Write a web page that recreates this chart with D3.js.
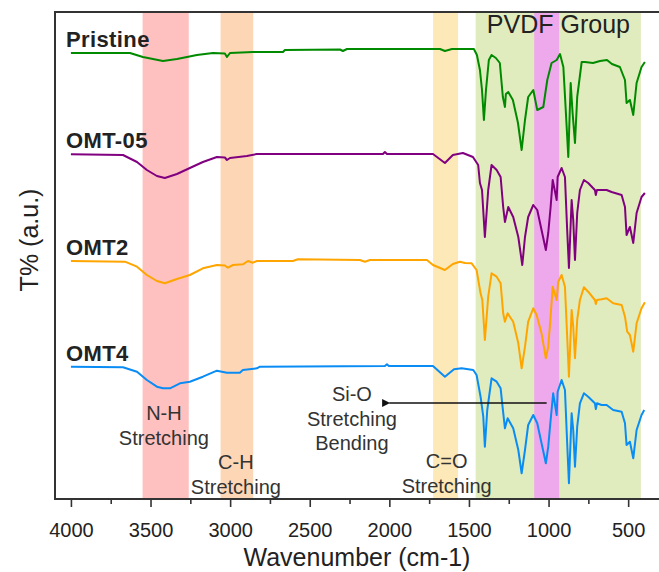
<!DOCTYPE html>
<html>
<head>
<meta charset="utf-8">
<script src="https://cdn.jsdelivr.net/npm/d3@7"></script>
<style>
body { margin: 0; background: #fff; }
svg { font-family: "Liberation Sans", Arial, sans-serif; }
</style>
</head>
<body>
<div id="graphe"></div>
<script>
// spectres FTIR : [nombre d'onde (cm-1), transmittance (u.a., décalée)]
const pristine = [
  [4000,446],[3629,446],[3548,442],[3422,438],[3334,440],[3271,442],[3209,444],[3108,446],
  [3033,445.5],[3020,442],[3001,446],[2857,447],[2668,447],[2656,449],[2310,449.5],[2292,448],
  [2266,450],[1682,450],[1651,448],[1607,450],[1469,450],[1450,444],[1431,429],[1418,409],
  [1406,379],[1393,409],[1375,439],[1358,444],[1331,441],[1306,436],[1287,402],[1274,392],
  [1268,405],[1253,407],[1224,399],[1192,376],[1169,349],[1148,379],[1128,402],[1096,409],
  [1071,389],[1033,392],[1008,419],[981,436],[949,439],[928,445],[907,432],[891,386],
  [876,342],[861,416],[849,386],[834,356],[820,402],[792,437],[772,437],[721,436],
  [677,438],[633,439],[602,435],[552,432],[520,419],[510,396],[489,399],[468,384],
  [447,416],[416,432],[395,437]
];
const omt05 = [
  [4000,344.7],[3673,344],[3585,337],[3523,329],[3460,323],[3410,321],[3334,325],[3253,331],
  [3171,337],[3083,342],[3033,341.5],[3020,339],[3001,341],[2895,343],[2832,345],[2040,345],
  [2028,347],[2015,345],[1726,345],[1651,336],[1601,344],[1538,346],[1475,342],[1442,334],
  [1431,316],[1418,309],[1400,262],[1379,309],[1358,334],[1326,329],[1301,322],[1285,292],
  [1274,277],[1253,292],[1222,282],[1190,262],[1165,234],[1148,262],[1128,282],[1096,294],
  [1071,289],[1044,269],[1017,249],[1002,266],[987,292],[974,319],[949,299],[943,322],
  [918,331],[897,322],[883,269],[872,231],[855,299],[845,279],[834,239],[820,286],
  [803,309],[778,319],[751,316],[709,309],[703,304],[696,309],[635,309],[604,307],
  [541,304],[520,292],[510,264],[489,272],[468,256],[447,286],[416,302],[395,306]
];
const omt2 = [
  [4000,238],[3661,237.3],[3585,232.3],[3523,224],[3460,218],[3410,215.7],[3334,220],[3253,224],
  [3171,230.7],[3083,234],[3033,233.5],[3014,231.3],[2982,234],[2920,234.7],[2888,238],[2857,236.3],
  [2832,238],[2606,238],[2574,239.7],[2185,239],[2153,237.3],[2122,239],[1764,239],[1726,234],
  [1651,229],[1601,235],[1557,237.3],[1525,236],[1483,235.7],[1452,229],[1427,205.7],[1416,199],
  [1400,159],[1379,202.3],[1358,225.7],[1326,222.3],[1301,215.7],[1285,185.7],[1274,177.3],[1257,185.7],
  [1222,177.3],[1190,155.7],[1169,130.7],[1148,152.3],[1128,177.3],[1096,190.7],[1075,184],[1044,165.7],
  [1017,140.7],[1002,152.3],[987,182.3],[974,212.3],[949,199],[939,217.3],[918,224],[897,212.3],
  [883,162.3],[872,122.3],[855,189],[845,172.3],[834,140.7],[820,179],[803,199],[778,211.7],
  [751,207.3],[709,199],[703,195],[696,199],[667,199.7],[635,200.7],[594,195.7],[541,194],
  [520,182.3],[506,167.3],[489,164],[468,147.3],[447,175.7],[416,190.7],[395,196.7]
];
const omt4 = [
  [4000,132.3],[3673,131.7],[3585,127.3],[3523,119],[3460,112.3],[3422,110.7],[3378,110.7],[3315,115.7],
  [3253,117.3],[3171,122.3],[3083,128.3],[3020,126.3],[2939,126.3],[2920,129],[2832,130.7],[2813,132.3],
  [2028,133],[2015,134.7],[2003,133],[1726,133],[1651,122.3],[1594,129.7],[1546,130.7],[1473,129],
  [1452,124],[1427,102.3],[1410,82.3],[1400,52.3],[1385,89],[1358,120.7],[1326,117.3],[1301,110.7],
  [1289,92.3],[1274,70.7],[1257,80.7],[1222,70.7],[1190,49],[1169,25.7],[1148,49],[1128,74],
  [1096,84],[1071,75.7],[1044,55.7],[1017,35.7],[1002,52.3],[987,79],[971,105.7],[949,84],
  [943,107.3],[918,119],[897,109],[883,55.7],[872,15.7],[855,85.7],[845,69],[834,32.3],
  [820,72.3],[803,95.7],[778,105.7],[751,102.3],[709,95.7],[703,90],[696,95.7],[667,94],
  [635,94],[594,89],[541,87.3],[520,75.7],[510,54],[489,57.3],[468,40.7],[447,69],
  [416,84],[399,89]
];

const nomsSeries = ["Pristine", "OMT-05", "OMT2", "OMT4"];
const series = [pristine, omt05, omt2, omt4];

// zones d'absorption (cm-1)
const zones = [[3550, 3260], [3060, 2855], [1725, 1568], [1458, 420], [1090, 933]];

const ticksMajeurs = [4000, 3500, 3000, 2500, 2000, 1500, 1000, 500];
const ticksMineurs = [3750, 3250, 2750, 2250, 1750, 1250, 750];

const couleurs = ["#008a00", "#800080", "#ffa500", "#0a8cf5"];
const couleursZones = ["#ffc0c0", "#fdd6b6", "#fde8b8", "#e1ecbe", "#eea8ec"];

const svg = d3.select("#graphe").append("svg").attr("width", 659).attr("height", 572);

const x = d3.scaleLinear().domain([4100, 300]).range([55, 660]);
const y = d3.scaleLinear().domain([0, 487]).range([499, 12]);

// bandes colorées
svg.selectAll("rect.zone").data(zones).enter().append("rect")
    .attr("class", "zone")
    .attr("x", d => x(d[0]))
    .attr("width", d => x(d[1]) - x(d[0]))
    .attr("y", y(487))
    .attr("height", y(0) - y(487))
    .attr("fill", (d, i) => couleursZones[i]);

// courbes
const ligne = d3.line().x(d => x(d[0])).y(d => y(d[1]));
svg.selectAll("path.spectre").data(series).enter().append("path")
    .attr("class", "spectre")
    .attr("d", ligne)
    .attr("fill", "none")
    .attr("stroke", (d, i) => couleurs[i])
    .attr("stroke-width", 2)
    .attr("stroke-linejoin", "round");

// noms des échantillons
svg.selectAll("text.nom").data(series).enter().append("text")
    .attr("class", "nom")
    .attr("x", x(4000) - 5)
    .attr("y", d => y(d[0][1]) - 6)
    .attr("font-size", 22)
    .attr("font-weight", "bold")
    .attr("letter-spacing", 0.4)
    .attr("fill", "#222")
    .text((d, i) => nomsSeries[i]);

svg.append("text")
    .attr("x", x(1400) + 2).attr("y", 33)
    .attr("font-size", 25).attr("fill", "#222")
    .text("PVDF Group");

// axe x
const axeX = svg.append("g").attr("transform", "translate(0,499)")
    .call(d3.axisBottom(x).tickValues(ticksMajeurs).tickSize(8).tickSizeOuter(0).tickPadding(16).tickFormat(d3.format("d")));
axeX.select(".domain").remove();
axeX.selectAll("text").attr("font-size", 20).attr("fill", "#222").attr("font-family", "Liberation Sans, Arial, sans-serif");
axeX.selectAll("line").attr("stroke", "#333").attr("stroke-width", 1.6);

const axeMin = svg.append("g").attr("transform", "translate(0,499)")
    .call(d3.axisBottom(x).tickValues(ticksMineurs).tickSize(5).tickSizeOuter(0).tickFormat(""));
axeMin.select(".domain").remove();
axeMin.selectAll("line").attr("stroke", "#333").attr("stroke-width", 1.6);

// cadre
svg.append("path")
    .attr("d", "M660,12 H55 V499 H660")
    .attr("fill", "none").attr("stroke", "#333").attr("stroke-width", 2);

svg.append("text")
    .attr("x", 357).attr("y", 566)
    .attr("text-anchor", "middle")
    .attr("font-size", 25).attr("fill", "#222")
    .text("Wavenumber (cm-1)");

svg.append("text")
    .attr("transform", "translate(38,240) rotate(-90)")
    .attr("text-anchor", "middle")
    .attr("font-size", 25).attr("fill", "#222")
    .text("T% (a.u.)");

// annotations
const annotations = [
  {w: 3416, lignes: ["N-H", "Stretching"], y0: 420},
  {w: 2964, lignes: ["C-H", "Stretching"], y0: 469},
  {w: 2235, lignes: ["Si-O", "Stretching", "Bending"], y0: 401},
  {w: 1640, lignes: ["C=O", "Stretching"], y0: 468}
];
annotations.forEach(a => {
    a.lignes.forEach((t, j) => {
        svg.append("text")
            .attr("x", x(a.w)).attr("y", a.y0 + j * 24.5)
            .attr("text-anchor", "middle")
            .attr("font-size", 20).attr("fill", "#333")
            .text(t);
    });
});

// flèche Si-O
svg.append("defs").append("marker")
    .attr("id", "fleche").attr("viewBox", "0 0 10 10")
    .attr("refX", 1).attr("refY", 5)
    .attr("markerWidth", 6).attr("markerHeight", 5)
    .attr("orient", "auto")
    .append("path").attr("d", "M10,0 L0,5 L10,10 Z").attr("fill", "#111");

svg.append("line")
    .attr("x1", x(1012)).attr("x2", x(2000))
    .attr("y1", 403).attr("y2", 403)
    .attr("stroke", "#111").attr("stroke-width", 1.6)
    .attr("marker-end", "url(#fleche)");
</script>
</body>
</html>
